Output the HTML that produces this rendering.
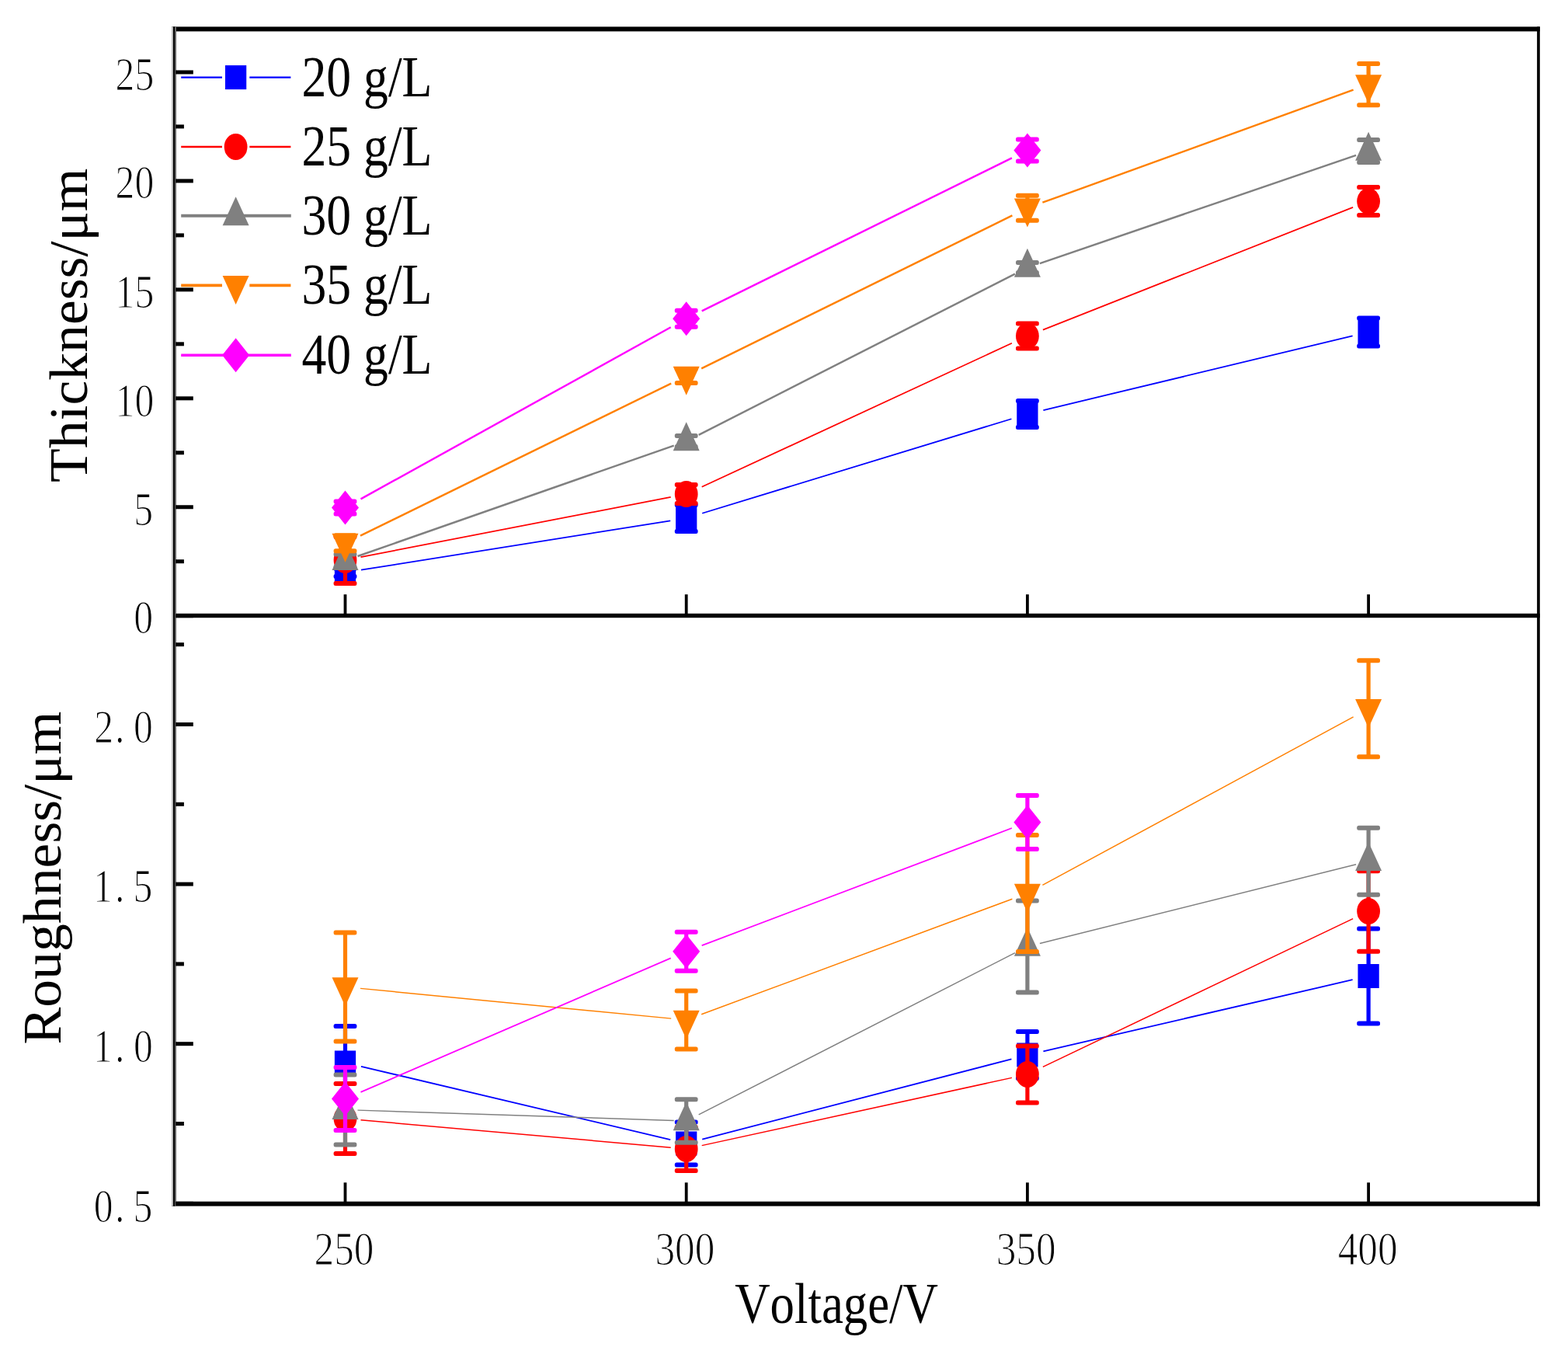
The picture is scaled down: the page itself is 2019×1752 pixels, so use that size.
<!DOCTYPE html>
<html><head><meta charset="utf-8"><title>Thickness and Roughness vs Voltage</title>
<style>html,body{margin:0;padding:0;background:#fff;}body{width:2019px;height:1752px;overflow:hidden;}svg{display:block;}</style>
</head><body>
<svg width="2019" height="1752" viewBox="0 0 2019 1752">
<rect width="2019" height="1752" fill="#fff"/>
<style>.tk{stroke:#fff;stroke-width:2.0;paint-order:fill stroke;}.nk{font-kerning:none;}</style>
<line x1="465.00" y1="733.73" x2="863.20" y2="670.27" stroke="#0000FF" stroke-width="1.8"/>
<line x1="904.20" y1="660.75" x2="1302.40" y2="539.25" stroke="#0000FF" stroke-width="1.8"/>
<line x1="1343.40" y1="528.08" x2="1741.60" y2="432.42" stroke="#0000FF" stroke-width="1.8"/>
<rect x="441.90" y="732.00" width="5.2" height="10.00" fill="#0000FF"/>
<rect x="429.60" y="729.00" width="29.8" height="6" rx="2.5" fill="#0000FF"/>
<rect x="429.60" y="739.00" width="29.8" height="6" rx="2.5" fill="#0000FF"/>
<rect x="430.85" y="721.50" width="27.3" height="31" fill="#0000FF"/>
<rect x="881.10" y="650.00" width="5.2" height="34.00" fill="#0000FF"/>
<rect x="868.80" y="647.00" width="29.8" height="6" rx="2.5" fill="#0000FF"/>
<rect x="868.80" y="681.00" width="29.8" height="6" rx="2.5" fill="#0000FF"/>
<rect x="870.05" y="651.50" width="27.3" height="31" fill="#0000FF"/>
<rect x="1320.30" y="516.00" width="5.2" height="34.00" fill="#0000FF"/>
<rect x="1308.00" y="513.00" width="29.8" height="6" rx="2.5" fill="#0000FF"/>
<rect x="1308.00" y="547.00" width="29.8" height="6" rx="2.5" fill="#0000FF"/>
<rect x="1309.25" y="517.50" width="27.3" height="31" fill="#0000FF"/>
<rect x="1759.50" y="409.50" width="5.2" height="36.00" fill="#0000FF"/>
<rect x="1747.20" y="406.50" width="29.8" height="6" rx="2.5" fill="#0000FF"/>
<rect x="1747.20" y="442.50" width="29.8" height="6" rx="2.5" fill="#0000FF"/>
<rect x="1748.45" y="412.00" width="27.3" height="31" fill="#0000FF"/>
<line x1="464.50" y1="717.13" x2="863.70" y2="639.87" stroke="#FF0000" stroke-width="1.7"/>
<line x1="903.70" y1="626.73" x2="1302.90" y2="441.77" stroke="#FF0000" stroke-width="1.7"/>
<line x1="1342.90" y1="424.60" x2="1742.10" y2="266.90" stroke="#FF0000" stroke-width="1.7"/>
<rect x="441.90" y="691.00" width="5.2" height="60.00" fill="#FF0000"/>
<rect x="429.60" y="688.00" width="29.8" height="6" rx="2.5" fill="#FF0000"/>
<rect x="429.60" y="748.00" width="29.8" height="6" rx="2.5" fill="#FF0000"/>
<ellipse cx="444.50" cy="721.00" rx="14.9" ry="17.1" fill="#FF0000"/>
<rect x="881.10" y="624.00" width="5.2" height="24.00" fill="#FF0000"/>
<rect x="868.80" y="621.00" width="29.8" height="6" rx="2.5" fill="#FF0000"/>
<rect x="868.80" y="645.00" width="29.8" height="6" rx="2.5" fill="#FF0000"/>
<ellipse cx="883.70" cy="636.00" rx="14.9" ry="17.1" fill="#FF0000"/>
<rect x="1320.30" y="416.50" width="5.2" height="32.00" fill="#FF0000"/>
<rect x="1308.00" y="413.50" width="29.8" height="6" rx="2.5" fill="#FF0000"/>
<rect x="1308.00" y="445.50" width="29.8" height="6" rx="2.5" fill="#FF0000"/>
<ellipse cx="1322.90" cy="432.50" rx="14.9" ry="17.1" fill="#FF0000"/>
<rect x="1759.50" y="241.00" width="5.2" height="36.00" fill="#FF0000"/>
<rect x="1747.20" y="238.00" width="29.8" height="6" rx="2.5" fill="#FF0000"/>
<rect x="1747.20" y="274.00" width="29.8" height="6" rx="2.5" fill="#FF0000"/>
<ellipse cx="1762.10" cy="259.00" rx="14.9" ry="17.1" fill="#FF0000"/>
<line x1="460.50" y1="716.00" x2="867.70" y2="573.60" stroke="#808080" stroke-width="2.4"/>
<line x1="899.70" y1="559.86" x2="1306.90" y2="352.64" stroke="#808080" stroke-width="2.4"/>
<line x1="1338.90" y1="339.04" x2="1746.10" y2="199.96" stroke="#808080" stroke-width="2.4"/>
<rect x="441.90" y="713.60" width="5.2" height="16.00" fill="#808080"/>
<rect x="429.60" y="710.60" width="29.8" height="6" rx="2.5" fill="#808080"/>
<rect x="429.60" y="726.60" width="29.8" height="6" rx="2.5" fill="#808080"/>
<polygon points="444.50,696.93 461.50,733.93 427.50,733.93" fill="#808080"/>
<rect x="881.10" y="561.00" width="5.2" height="14.00" fill="#808080"/>
<rect x="868.80" y="558.00" width="29.8" height="6" rx="2.5" fill="#808080"/>
<rect x="868.80" y="572.00" width="29.8" height="6" rx="2.5" fill="#808080"/>
<polygon points="883.70,543.33 900.70,580.33 866.70,580.33" fill="#808080"/>
<rect x="1320.30" y="338.00" width="5.2" height="13.00" fill="#808080"/>
<rect x="1308.00" y="335.00" width="29.8" height="6" rx="2.5" fill="#808080"/>
<rect x="1308.00" y="348.00" width="29.8" height="6" rx="2.5" fill="#808080"/>
<polygon points="1322.90,319.83 1339.90,356.83 1305.90,356.83" fill="#808080"/>
<rect x="1759.50" y="180.00" width="5.2" height="29.00" fill="#808080"/>
<rect x="1747.20" y="177.00" width="29.8" height="6" rx="2.5" fill="#808080"/>
<rect x="1747.20" y="206.00" width="29.8" height="6" rx="2.5" fill="#808080"/>
<polygon points="1762.10,169.83 1779.10,206.83 1745.10,206.83" fill="#808080"/>
<line x1="464.00" y1="689.65" x2="864.20" y2="493.55" stroke="#FF8000" stroke-width="2.4"/>
<line x1="903.20" y1="474.40" x2="1303.40" y2="277.40" stroke="#FF8000" stroke-width="2.4"/>
<line x1="1342.40" y1="260.73" x2="1742.60" y2="115.67" stroke="#FF8000" stroke-width="2.4"/>
<rect x="441.90" y="689.20" width="5.2" height="20.00" fill="#FF8000"/>
<rect x="429.60" y="686.20" width="29.8" height="6" rx="2.5" fill="#FF8000"/>
<rect x="429.60" y="706.20" width="29.8" height="6" rx="2.5" fill="#FF8000"/>
<polygon points="427.50,686.87 461.50,686.87 444.50,723.87" fill="#FF8000"/>
<rect x="881.10" y="475.00" width="5.2" height="18.00" fill="#FF8000"/>
<rect x="868.80" y="472.00" width="29.8" height="6" rx="2.5" fill="#FF8000"/>
<rect x="868.80" y="490.00" width="29.8" height="6" rx="2.5" fill="#FF8000"/>
<polygon points="866.70,471.67 900.70,471.67 883.70,508.67" fill="#FF8000"/>
<rect x="1320.30" y="251.80" width="5.2" height="32.00" fill="#FF8000"/>
<rect x="1308.00" y="248.80" width="29.8" height="6" rx="2.5" fill="#FF8000"/>
<rect x="1308.00" y="280.80" width="29.8" height="6" rx="2.5" fill="#FF8000"/>
<polygon points="1305.90,255.47 1339.90,255.47 1322.90,292.47" fill="#FF8000"/>
<rect x="1759.50" y="81.90" width="5.2" height="53.40" fill="#FF8000"/>
<rect x="1747.20" y="78.90" width="29.8" height="6" rx="2.5" fill="#FF8000"/>
<rect x="1747.20" y="132.30" width="29.8" height="6" rx="2.5" fill="#FF8000"/>
<polygon points="1745.10,96.27 1779.10,96.27 1762.10,133.27" fill="#FF8000"/>
<line x1="464.50" y1="642.42" x2="863.70" y2="421.28" stroke="#FF00FF" stroke-width="2.4"/>
<line x1="903.70" y1="400.33" x2="1302.90" y2="203.37" stroke="#FF00FF" stroke-width="2.4"/>
<rect x="441.90" y="645.50" width="5.2" height="16.00" fill="#FF00FF"/>
<rect x="429.60" y="642.50" width="29.8" height="6" rx="2.5" fill="#FF00FF"/>
<rect x="429.60" y="658.50" width="29.8" height="6" rx="2.5" fill="#FF00FF"/>
<polygon points="444.50,631.50 462.00,653.50 444.50,675.50 427.00,653.50" fill="#FF00FF"/>
<rect x="881.10" y="399.70" width="5.2" height="21.00" fill="#FF00FF"/>
<rect x="868.80" y="396.70" width="29.8" height="6" rx="2.5" fill="#FF00FF"/>
<rect x="868.80" y="417.70" width="29.8" height="6" rx="2.5" fill="#FF00FF"/>
<polygon points="883.70,388.20 901.20,410.20 883.70,432.20 866.20,410.20" fill="#FF00FF"/>
<rect x="1320.30" y="179.50" width="5.2" height="28.00" fill="#FF00FF"/>
<rect x="1308.00" y="176.50" width="29.8" height="6" rx="2.5" fill="#FF00FF"/>
<rect x="1308.00" y="204.50" width="29.8" height="6" rx="2.5" fill="#FF00FF"/>
<polygon points="1322.90,171.50 1340.40,193.50 1322.90,215.50 1305.40,193.50" fill="#FF00FF"/>
<line x1="465.00" y1="1372.85" x2="863.20" y2="1467.15" stroke="#0000FF" stroke-width="1.8"/>
<line x1="904.20" y1="1466.68" x2="1302.40" y2="1363.32" stroke="#0000FF" stroke-width="1.8"/>
<line x1="1343.40" y1="1353.26" x2="1741.60" y2="1261.24" stroke="#0000FF" stroke-width="1.8"/>
<rect x="441.90" y="1321.00" width="5.2" height="94.00" fill="#0000FF"/>
<rect x="429.60" y="1318.00" width="29.8" height="6" rx="2.5" fill="#0000FF"/>
<rect x="429.60" y="1412.00" width="29.8" height="6" rx="2.5" fill="#0000FF"/>
<rect x="430.85" y="1352.50" width="27.3" height="31" fill="#0000FF"/>
<rect x="881.10" y="1444.50" width="5.2" height="55.00" fill="#0000FF"/>
<rect x="868.80" y="1441.50" width="29.8" height="6" rx="2.5" fill="#0000FF"/>
<rect x="868.80" y="1496.50" width="29.8" height="6" rx="2.5" fill="#0000FF"/>
<rect x="870.05" y="1456.50" width="27.3" height="31" fill="#0000FF"/>
<rect x="1320.30" y="1328.00" width="5.2" height="60.00" fill="#0000FF"/>
<rect x="1308.00" y="1325.00" width="29.8" height="6" rx="2.5" fill="#0000FF"/>
<rect x="1308.00" y="1385.00" width="29.8" height="6" rx="2.5" fill="#0000FF"/>
<rect x="1309.25" y="1342.50" width="27.3" height="31" fill="#0000FF"/>
<rect x="1759.50" y="1195.50" width="5.2" height="122.00" fill="#0000FF"/>
<rect x="1747.20" y="1192.50" width="29.8" height="6" rx="2.5" fill="#0000FF"/>
<rect x="1747.20" y="1314.50" width="29.8" height="6" rx="2.5" fill="#0000FF"/>
<rect x="1748.45" y="1241.00" width="27.3" height="31" fill="#0000FF"/>
<line x1="464.50" y1="1441.78" x2="863.70" y2="1477.22" stroke="#FF0000" stroke-width="1.5"/>
<line x1="903.70" y1="1474.63" x2="1302.90" y2="1387.37" stroke="#FF0000" stroke-width="1.5"/>
<line x1="1342.90" y1="1373.44" x2="1742.10" y2="1182.56" stroke="#FF0000" stroke-width="1.5"/>
<rect x="441.90" y="1395.00" width="5.2" height="90.00" fill="#FF0000"/>
<rect x="429.60" y="1392.00" width="29.8" height="6" rx="2.5" fill="#FF0000"/>
<rect x="429.60" y="1482.00" width="29.8" height="6" rx="2.5" fill="#FF0000"/>
<ellipse cx="444.50" cy="1440.00" rx="14.9" ry="17.1" fill="#FF0000"/>
<rect x="881.10" y="1451.00" width="5.2" height="56.00" fill="#FF0000"/>
<rect x="868.80" y="1448.00" width="29.8" height="6" rx="2.5" fill="#FF0000"/>
<rect x="868.80" y="1504.00" width="29.8" height="6" rx="2.5" fill="#FF0000"/>
<ellipse cx="883.70" cy="1479.00" rx="14.9" ry="17.1" fill="#FF0000"/>
<rect x="1320.30" y="1346.60" width="5.2" height="72.80" fill="#FF0000"/>
<rect x="1308.00" y="1343.60" width="29.8" height="6" rx="2.5" fill="#FF0000"/>
<rect x="1308.00" y="1416.40" width="29.8" height="6" rx="2.5" fill="#FF0000"/>
<ellipse cx="1322.90" cy="1383.00" rx="14.9" ry="17.1" fill="#FF0000"/>
<rect x="1759.50" y="1121.30" width="5.2" height="103.40" fill="#FF0000"/>
<rect x="1747.20" y="1118.30" width="29.8" height="6" rx="2.5" fill="#FF0000"/>
<rect x="1747.20" y="1221.70" width="29.8" height="6" rx="2.5" fill="#FF0000"/>
<ellipse cx="1762.10" cy="1173.00" rx="14.9" ry="17.1" fill="#FF0000"/>
<line x1="460.50" y1="1429.12" x2="867.70" y2="1442.48" stroke="#808080" stroke-width="1.45"/>
<line x1="899.70" y1="1434.82" x2="1306.90" y2="1226.68" stroke="#808080" stroke-width="1.45"/>
<line x1="1338.90" y1="1214.50" x2="1746.10" y2="1112.70" stroke="#808080" stroke-width="1.45"/>
<rect x="441.90" y="1383.60" width="5.2" height="90.00" fill="#808080"/>
<rect x="429.60" y="1380.60" width="29.8" height="6" rx="2.5" fill="#808080"/>
<rect x="429.60" y="1470.60" width="29.8" height="6" rx="2.5" fill="#808080"/>
<polygon points="444.50,1403.93 461.50,1440.93 427.50,1440.93" fill="#808080"/>
<rect x="881.10" y="1415.30" width="5.2" height="55.40" fill="#808080"/>
<rect x="868.80" y="1412.30" width="29.8" height="6" rx="2.5" fill="#808080"/>
<rect x="868.80" y="1467.70" width="29.8" height="6" rx="2.5" fill="#808080"/>
<polygon points="883.70,1418.33 900.70,1455.33 866.70,1455.33" fill="#808080"/>
<rect x="1320.30" y="1159.50" width="5.2" height="118.00" fill="#808080"/>
<rect x="1308.00" y="1156.50" width="29.8" height="6" rx="2.5" fill="#808080"/>
<rect x="1308.00" y="1274.50" width="29.8" height="6" rx="2.5" fill="#808080"/>
<polygon points="1322.90,1193.83 1339.90,1230.83 1305.90,1230.83" fill="#808080"/>
<rect x="1759.50" y="1065.70" width="5.2" height="86.00" fill="#808080"/>
<rect x="1747.20" y="1062.70" width="29.8" height="6" rx="2.5" fill="#808080"/>
<rect x="1747.20" y="1148.70" width="29.8" height="6" rx="2.5" fill="#808080"/>
<polygon points="1762.10,1084.03 1779.10,1121.03 1745.10,1121.03" fill="#808080"/>
<line x1="464.00" y1="1272.39" x2="864.20" y2="1311.11" stroke="#FF8000" stroke-width="1.45"/>
<line x1="903.20" y1="1305.76" x2="1303.40" y2="1157.24" stroke="#FF8000" stroke-width="1.45"/>
<line x1="1342.40" y1="1139.45" x2="1742.60" y2="922.85" stroke="#FF8000" stroke-width="1.45"/>
<rect x="441.90" y="1200.50" width="5.2" height="140.00" fill="#FF8000"/>
<rect x="429.60" y="1197.50" width="29.8" height="6" rx="2.5" fill="#FF8000"/>
<rect x="429.60" y="1337.50" width="29.8" height="6" rx="2.5" fill="#FF8000"/>
<polygon points="427.50,1258.17 461.50,1258.17 444.50,1295.17" fill="#FF8000"/>
<rect x="881.10" y="1275.50" width="5.2" height="75.00" fill="#FF8000"/>
<rect x="868.80" y="1272.50" width="29.8" height="6" rx="2.5" fill="#FF8000"/>
<rect x="868.80" y="1347.50" width="29.8" height="6" rx="2.5" fill="#FF8000"/>
<polygon points="866.70,1300.67 900.70,1300.67 883.70,1337.67" fill="#FF8000"/>
<rect x="1320.30" y="1075.00" width="5.2" height="150.00" fill="#FF8000"/>
<rect x="1308.00" y="1072.00" width="29.8" height="6" rx="2.5" fill="#FF8000"/>
<rect x="1308.00" y="1222.00" width="29.8" height="6" rx="2.5" fill="#FF8000"/>
<polygon points="1305.90,1137.67 1339.90,1137.67 1322.90,1174.67" fill="#FF8000"/>
<rect x="1759.50" y="850.30" width="5.2" height="124.00" fill="#FF8000"/>
<rect x="1747.20" y="847.30" width="29.8" height="6" rx="2.5" fill="#FF8000"/>
<rect x="1747.20" y="971.30" width="29.8" height="6" rx="2.5" fill="#FF8000"/>
<polygon points="1745.10,899.97 1779.10,899.97 1762.10,936.97" fill="#FF8000"/>
<line x1="464.50" y1="1405.86" x2="863.70" y2="1233.34" stroke="#FF00FF" stroke-width="1.8"/>
<line x1="903.70" y1="1217.13" x2="1302.90" y2="1065.97" stroke="#FF00FF" stroke-width="1.8"/>
<rect x="441.90" y="1374.00" width="5.2" height="81.00" fill="#FF00FF"/>
<rect x="429.60" y="1371.00" width="29.8" height="6" rx="2.5" fill="#FF00FF"/>
<rect x="429.60" y="1452.00" width="29.8" height="6" rx="2.5" fill="#FF00FF"/>
<polygon points="444.50,1392.50 462.00,1414.50 444.50,1436.50 427.00,1414.50" fill="#FF00FF"/>
<rect x="881.10" y="1199.70" width="5.2" height="50.00" fill="#FF00FF"/>
<rect x="868.80" y="1196.70" width="29.8" height="6" rx="2.5" fill="#FF00FF"/>
<rect x="868.80" y="1246.70" width="29.8" height="6" rx="2.5" fill="#FF00FF"/>
<polygon points="883.70,1202.70 901.20,1224.70 883.70,1246.70 866.20,1224.70" fill="#FF00FF"/>
<rect x="1320.30" y="1023.90" width="5.2" height="69.00" fill="#FF00FF"/>
<rect x="1308.00" y="1020.90" width="29.8" height="6" rx="2.5" fill="#FF00FF"/>
<rect x="1308.00" y="1089.90" width="29.8" height="6" rx="2.5" fill="#FF00FF"/>
<polygon points="1322.90,1036.40 1340.40,1058.40 1322.90,1080.40 1305.40,1058.40" fill="#FF00FF"/>
<line x1="233.2" y1="99.6" x2="286" y2="99.6" stroke="#0000FF" stroke-width="2.4"/>
<line x1="321.3" y1="99.6" x2="374.4" y2="99.6" stroke="#0000FF" stroke-width="2.4"/>
<rect x="289.95" y="84.10" width="27.3" height="31" fill="#0000FF"/>
<line x1="233.2" y1="189.0" x2="286" y2="189.0" stroke="#FF0000" stroke-width="2.4"/>
<line x1="321.3" y1="189.0" x2="374.4" y2="189.0" stroke="#FF0000" stroke-width="2.4"/>
<ellipse cx="303.60" cy="189.00" rx="14.9" ry="17.1" fill="#FF0000"/>
<line x1="233.2" y1="277.8" x2="374.8" y2="277.8" stroke="#808080" stroke-width="4.0"/>
<polygon points="303.60,253.13 320.60,290.13 286.60,290.13" fill="#808080"/>
<line x1="233.2" y1="367.4" x2="286" y2="367.4" stroke="#FF8000" stroke-width="3.6"/>
<line x1="321.3" y1="367.4" x2="374.4" y2="367.4" stroke="#FF8000" stroke-width="3.6"/>
<polygon points="286.60,355.07 320.60,355.07 303.60,392.07" fill="#FF8000"/>
<line x1="233.2" y1="457.2" x2="374.8" y2="457.2" stroke="#FF00FF" stroke-width="3.6"/>
<polygon points="303.60,435.20 321.10,457.20 303.60,479.20 286.10,457.20" fill="#FF00FF"/>
<g fill="#000">
<rect x="221" y="34.4" width="1761.8" height="6"/>
<rect x="221" y="789.8" width="1761.8" height="5.4"/>
<rect x="221" y="1546.7" width="1761.8" height="5.9"/>
<rect x="221" y="34.4" width="2" height="1518.2" fill="#bbb"/>
<rect x="223" y="34.4" width="2" height="1518.2"/>
<rect x="225" y="34.4" width="2" height="1518.2" fill="#666"/>
<rect x="1979.1" y="34.4" width="3.7" height="1518.2"/>
<rect x="226" y="790.20" width="22.8" height="5"/>
<rect x="226" y="720.23" width="10.9" height="5"/>
<rect x="226" y="650.25" width="22.8" height="5"/>
<rect x="226" y="580.28" width="10.9" height="5"/>
<rect x="226" y="510.30" width="22.8" height="5"/>
<rect x="226" y="440.33" width="10.9" height="5"/>
<rect x="226" y="370.35" width="22.8" height="5"/>
<rect x="226" y="300.38" width="10.9" height="5"/>
<rect x="226" y="230.40" width="22.8" height="5"/>
<rect x="226" y="160.43" width="10.9" height="5"/>
<rect x="226" y="90.45" width="22.8" height="5"/>
<rect x="226" y="1546.80" width="22.8" height="5"/>
<rect x="226" y="1444.00" width="10.9" height="5"/>
<rect x="226" y="1341.20" width="22.8" height="5"/>
<rect x="226" y="1238.40" width="10.9" height="5"/>
<rect x="226" y="1135.60" width="22.8" height="5"/>
<rect x="226" y="1032.80" width="10.9" height="5"/>
<rect x="226" y="930.00" width="22.8" height="5"/>
<rect x="226" y="827.20" width="10.9" height="5"/>
<rect x="442.60" y="765.2" width="3.8" height="25"/>
<rect x="442.60" y="1522.3" width="3.8" height="25"/>
<rect x="881.80" y="765.2" width="3.8" height="25"/>
<rect x="881.80" y="1522.3" width="3.8" height="25"/>
<rect x="1321.00" y="765.2" width="3.8" height="25"/>
<rect x="1321.00" y="1522.3" width="3.8" height="25"/>
<rect x="1760.20" y="765.2" width="3.8" height="25"/>
<rect x="1760.20" y="1522.3" width="3.8" height="25"/>
</g>
<g font-family='"Liberation Serif", "Noto Serif CJK SC", serif' fill="#000">
<text class="tk" transform="translate(148.59,115.82) scale(0.4970,0.6210)" font-size="100">25</text>
<text class="tk" transform="translate(148.59,255.46) scale(0.4970,0.6210)" font-size="100">20</text>
<text class="tk" transform="translate(148.59,396.03) scale(0.4970,0.6210)" font-size="100">15</text>
<text class="tk" transform="translate(148.59,535.67) scale(0.4970,0.6210)" font-size="100">10</text>
<text class="tk" transform="translate(172.14,675.62) scale(0.4970,0.6210)" font-size="100">5</text>
<text class="tk" transform="translate(172.14,815.26) scale(0.4970,0.6210)" font-size="100">0</text>
<text class="tk" transform="translate(121.17,955.87) scale(0.4970,0.6210)" font-size="100">2</text>
<text class="tk" transform="translate(147.99,955.87) scale(0.4970,0.6210)" font-size="100">.</text>
<text class="tk" transform="translate(172.02,955.87) scale(0.4970,0.6210)" font-size="100">0</text>
<text class="tk" transform="translate(119.93,1161.47) scale(0.4970,0.6210)" font-size="100">1</text>
<text class="tk" transform="translate(147.99,1161.47) scale(0.4970,0.6210)" font-size="100">.</text>
<text class="tk" transform="translate(171.53,1161.47) scale(0.4970,0.6210)" font-size="100">5</text>
<text class="tk" transform="translate(119.93,1367.07) scale(0.4970,0.6210)" font-size="100">1</text>
<text class="tk" transform="translate(147.99,1367.07) scale(0.4970,0.6210)" font-size="100">.</text>
<text class="tk" transform="translate(172.02,1367.07) scale(0.4970,0.6210)" font-size="100">0</text>
<text class="tk" transform="translate(120.67,1572.67) scale(0.4970,0.6210)" font-size="100">0</text>
<text class="tk" transform="translate(147.99,1572.67) scale(0.4970,0.6210)" font-size="100">.</text>
<text class="tk" transform="translate(171.53,1572.67) scale(0.4970,0.6210)" font-size="100">5</text>
<text class="tk" transform="translate(404.52,1628.07) scale(0.5130,0.6210)" font-size="100">250</text>
<text class="tk" transform="translate(843.47,1628.07) scale(0.5130,0.6210)" font-size="100">300</text>
<text class="tk" transform="translate(1282.67,1628.07) scale(0.5130,0.6210)" font-size="100">350</text>
<text class="tk" transform="translate(1722.64,1628.07) scale(0.5130,0.6210)" font-size="100">400</text>
<text class="nk" transform="translate(946.27,1702.90) scale(0.6280,0.7311)" font-size="100">Voltage/V</text>
<text transform="translate(388.45,124.20) scale(0.6370,0.7350)" font-size="100">20 g/L</text>
<text transform="translate(388.45,213.00) scale(0.6370,0.7350)" font-size="100">25 g/L</text>
<text transform="translate(388.45,301.80) scale(0.6370,0.7350)" font-size="100">30 g/L</text>
<text transform="translate(388.45,391.30) scale(0.6370,0.7350)" font-size="100">35 g/L</text>
<text transform="translate(388.45,481.10) scale(0.6370,0.7350)" font-size="100">40 g/L</text>
<text transform="translate(112.1,621.0) scale(0.698,0.7166) rotate(-90)" font-size="100">Thickness/μm</text>
<text transform="translate(77.5,1344.6) scale(0.700,0.7174) rotate(-90)" font-size="100">Roughness/μm</text>
</g>
</svg>
</body></html>
